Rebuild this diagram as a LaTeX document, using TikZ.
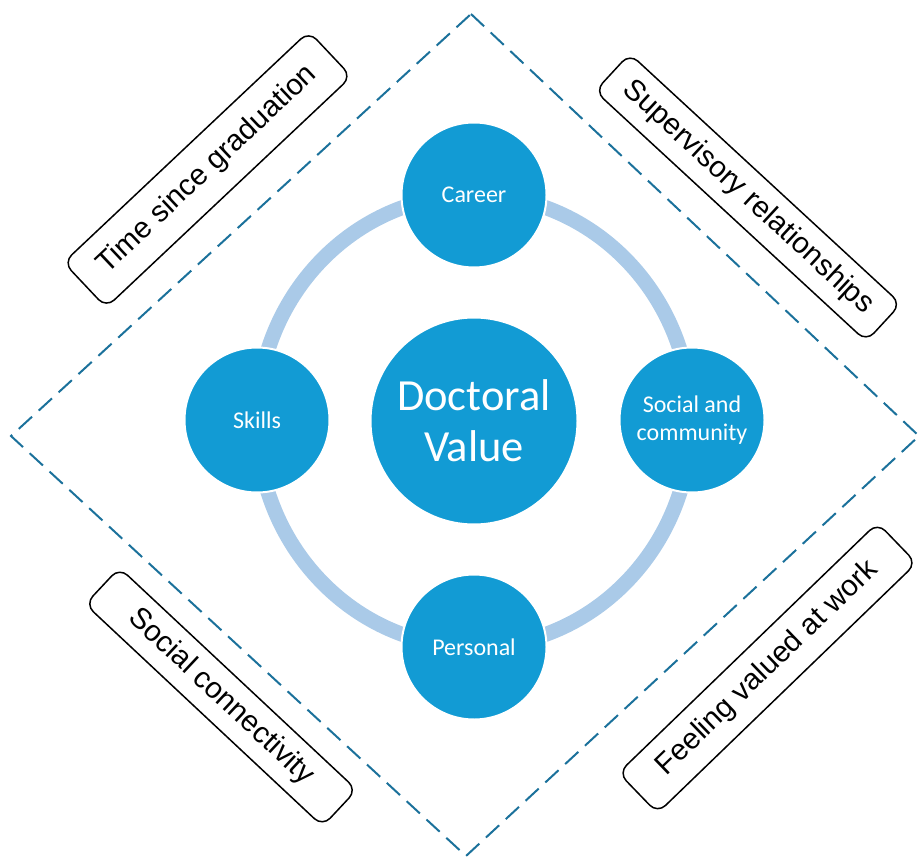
\documentclass[tikz,border=0pt]{standalone}
\usepackage{fontspec}
\setmainfont{Liberation Sans}
\newfontfamily\carlito{Carlito}
\definecolor{circblue}{RGB}{18,155,212}
\definecolor{ringblue}{RGB}{170,202,232}
\definecolor{dashblue}{RGB}{27,113,155}
\tikzset{
  bubble/.style={circle, fill=circblue, draw=white, line width=2pt, text=white, align=center, inner sep=0pt, font=\carlito\fontsize{24}{27.5}\selectfont},
  centrebubble/.style={bubble, minimum size=207pt, font=\carlito\fontsize{44.5}{51}\selectfont},
  smallbubble/.style={bubble, minimum size=145pt},
  ringline/.style={draw=ringblue, line width=15pt},
  factorbox/.style={draw=black, line width=1.5pt, rounded corners=11pt, fill=white, inner sep=0pt, align=center, font=\fontsize{29.5}{34}\selectfont},
  diamondline/.style={draw=dashblue, line width=2pt, dash pattern=on 18pt off 9pt}
}
\begin{document}
\begin{tikzpicture}[x=1pt,y=-1pt]
\useasboundingbox (0,0) rectangle (920,858);
% dashed diamond
\coordinate (dT) at (471,14);
\coordinate (dR) at (919,436);
\coordinate (dB) at (466,856);
\coordinate (dL) at (11,436);
\draw[diamondline] (dT) -- (dR) -- (dB) -- (dL) -- cycle;
% central node and ring
\coordinate (ctr) at (474,421);
\draw[ringline] (ctr) ellipse [x radius=217pt, y radius=226pt];
\node[centrebubble] (c) at (ctr) {Doctoral\\Value};
\node[smallbubble] (career) at (474,195) {Career};
\node[smallbubble] (skills) at (257,420) {Skills};
\node[smallbubble] (social) at (692,420) {Social and\\community};
\node[smallbubble] (personal) at (474,647) {Personal};
% factor boxes
\node[factorbox, minimum width=337pt, minimum height=62pt, rotate=43.3] (t1) at (207.5,169.5) {Time since graduation};
\node[factorbox, minimum width=369pt, minimum height=51pt, rotate=-42.7] (t2) at (748,197.5) {Supervisory relationships};
\node[factorbox, minimum width=325pt, minimum height=50pt, rotate=-43.1] (t3) at (221,697) {Social connectivity};
\node[factorbox, minimum width=360pt, minimum height=56pt, rotate=44] (t4) at (767.5,668) {Feeling valued at work};
\end{tikzpicture}
\end{document}
